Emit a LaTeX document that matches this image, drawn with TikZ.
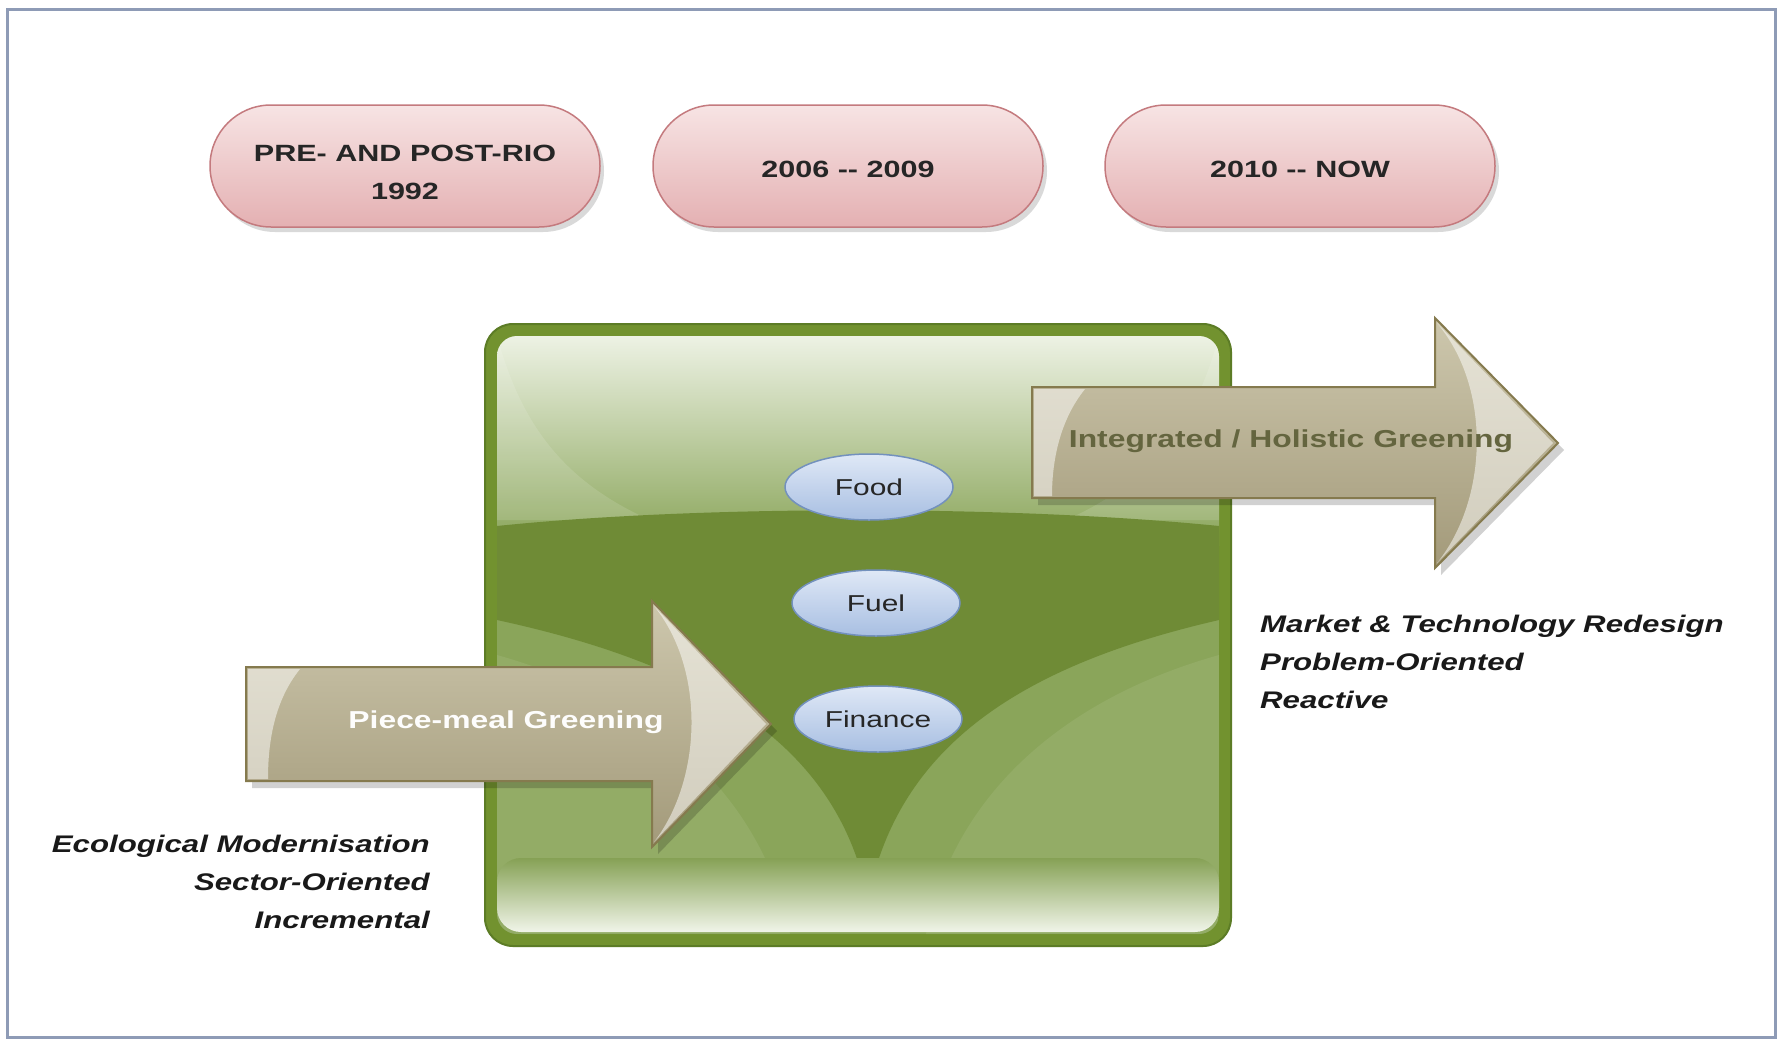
\documentclass[tikz,border=0pt]{standalone}
\usepackage{fontspec}
\setmainfont{Liberation Sans}
\newfontfamily\wf[FakeStretch=1.3]{Liberation Sans}
\usetikzlibrary{shapes.geometric,shapes.misc,shadows}
\definecolor{framec}{HTML}{8E9BB6}
\definecolor{pilltop}{HTML}{F7E4E4}
\definecolor{pillbot}{HTML}{E4B0B2}
\definecolor{pilledge}{HTML}{C47A7E}
\definecolor{boxedge}{HTML}{5C7C26}
\definecolor{boxrim}{HTML}{72922F}
\definecolor{boxmid}{HTML}{8AA55A}
\definecolor{boxlight}{HTML}{EDF2E4}
\definecolor{boxdark}{HTML}{6F8B36}
\definecolor{arrtop}{HTML}{CDC7AD}
\definecolor{arrbot}{HTML}{A39A7A}
\definecolor{arredge}{HTML}{857A4E}
\definecolor{arrtext}{HTML}{64653F}
\definecolor{eltop}{HTML}{DFE8F6}
\definecolor{elbot}{HTML}{A8BFE2}
\definecolor{eledge}{HTML}{7391BD}
\begin{document}
\begin{tikzpicture}[x=1pt,y=1pt,
  pill/.style={rounded rectangle, draw=pilledge, line width=1.5pt,
    top color=pilltop, bottom color=pillbot,
    minimum width=390pt, minimum height=122pt, inner sep=0pt,
    drop shadow={shadow xshift=4pt, shadow yshift=-5pt, opacity=0.15, fill=black}},
  pilltext/.style={align=center, text=black!85, inner sep=0pt,
    font=\wf\bfseries\fontsize{23.5}{38}\selectfont},
  blob/.style={ellipse, draw=eledge, line width=1.5pt,
    top color=eltop, bottom color=elbot,
    minimum width=168pt, minimum height=66pt, inner sep=0pt,
    text=black!85, font=\wf\fontsize{23}{28}\selectfont},
  arrowbody/.style={draw=arredge, line width=2pt, top color=arrtop, bottom color=arrbot,
    drop shadow={shadow xshift=6pt, shadow yshift=-7pt, opacity=0.18, fill=black}},
  gloss/.style={fill=white, opacity=0.5},
  arrlabel/.style={font=\wf\bfseries\fontsize{24.5}{29}\selectfont, inner sep=0pt},
  note/.style={font=\wf\bfseries\itshape\fontsize{24}{29}\selectfont, text=black!90, inner sep=0pt}
]
\useasboundingbox (0,0) rectangle (1783,-1039);
\fill[white] (0,0) rectangle (1783,-1039);
\draw[framec, line width=3pt] (7,-9) rectangle (1775,-1037);

% period pills
\node[pill] (p1) at (405,-166) {};
\node[pill] (p2) at (848,-166) {};
\node[pill] (p3) at (1300,-166) {};
\node[pilltext] (t1) at (405,-172) {PRE- AND POST-RIO\\1992};
\node[pilltext] (t2) at (848,-169) {2006 -{}- 2009};
\node[pilltext] (t3) at (1300,-169) {2010 -{}- NOW};

% green box
\node[draw=boxedge, fill=boxrim, line width=2pt, rounded corners=28pt,
  minimum width=746pt, minimum height=622pt, inner sep=0pt] (box) at (858,-635) {};
\begin{scope}
  \clip[rounded corners=20pt] (497,-336) rectangle (1219,-934);
  \fill[boxmid] (497,-336) rectangle (1219,-934);
  \shade[top color=boxlight, bottom color=boxmid] (497,-336) rectangle (1219,-545);
  \fill[white, opacity=0.12] (497,-336) .. controls (520,-420) and (560,-480) .. (650,-520) -- (497,-520) -- cycle;
  \fill[white, opacity=0.12] (1219,-336) .. controls (1196,-420) and (1156,-480) .. (1066,-520) -- (1219,-520) -- cycle;
  \fill[boxdark] (497,-526) .. controls (700,-505) and (1010,-505) .. (1219,-526)
     -- (1219,-620) .. controls (1023,-665) and (898,-745) .. (868,-900)
     .. controls (838,-745) and (705,-665) .. (497,-620) -- cycle;
  \fill[white, opacity=0.08] (497,-655) .. controls (640,-695) and (760,-785) .. (790,-934) -- (497,-934) -- cycle;
  \fill[white, opacity=0.08] (1219,-655) .. controls (1076,-695) and (956,-785) .. (926,-934) -- (1219,-934) -- cycle;
  \shade[rounded corners=24pt, top color=boxmid!85!boxdark, bottom color=boxlight!80!white] (497,-858) rectangle (1219,-932);
\end{scope}

% left arrow
\path[arrowbody] (246,-667) -- (652,-667) -- (652,-601) -- (771,-724) -- (652,-847)
   -- (652,-781) -- (246,-781) -- cycle;
\fill[gloss] (248,-669) -- (300,-669) .. controls (275,-700) and (268,-740) .. (268,-779) -- (248,-779) -- cycle;
\fill[gloss] (654,-606) -- (766,-724) -- (654,-842) .. controls (702,-780) and (706,-670) .. (654,-606) -- cycle;
\node[arrlabel, text=white!96!arrtop] (pm) at (506,-722) {Piece-meal Greening};

% right arrow
\path[arrowbody] (1032,-387) -- (1435,-387) -- (1435,-318) -- (1558,-443) -- (1435,-568)
   -- (1435,-498) -- (1032,-498) -- cycle;
\fill[gloss] (1034,-389) -- (1085,-389) .. controls (1060,-420) and (1052,-460) .. (1052,-496) -- (1034,-496) -- cycle;
\fill[gloss] (1437,-323) -- (1553,-443) -- (1437,-563) .. controls (1488,-500) and (1492,-388) .. (1437,-323) -- cycle;
\node[arrlabel, text=arrtext] (ih) at (1291,-441) {Integrated / Holistic Greening};

% sector ellipses
\node[blob] (food) at (869,-487) {Food};
\node[blob] (fuel) at (876,-603) {Fuel};
\node[blob] (fin) at (878,-719) {Finance};

% notes
\node[note, anchor=base east] (l1) at (430,-852) {Ecological Modernisation};
\node[note, anchor=base east] (l2) at (430,-890) {Sector-Oriented};
\node[note, anchor=base east] (l3) at (430,-928) {Incremental};
\node[note, anchor=base west] (r1) at (1260,-632) {Market \& Technology Redesign};
\node[note, anchor=base west] (r2) at (1260,-670) {Problem-Oriented};
\node[note, anchor=base west] (r3) at (1260,-708) {Reactive};
\end{tikzpicture}
\end{document}
